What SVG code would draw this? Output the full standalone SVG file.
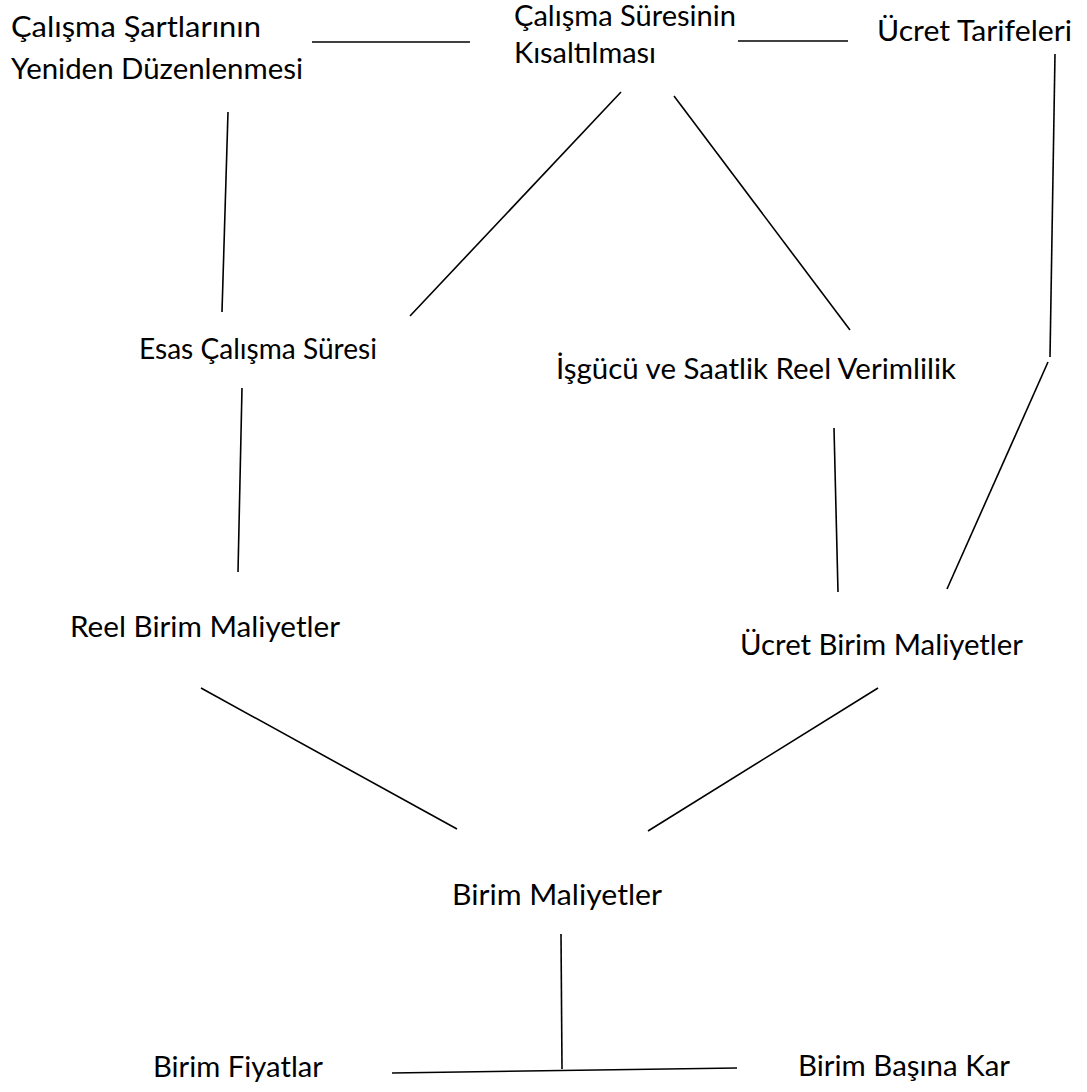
<svg xmlns="http://www.w3.org/2000/svg" width="1087" height="1092" viewBox="0 0 1087 1092">
  <style>
    .lbl { font-family: Lato, "Open Sans", "Liberation Sans", sans-serif; font-size: 28px; fill: #000; }
    .ln { stroke: #000; stroke-width: 1.6; fill: none; stroke-linecap: butt; }
  </style>
  <rect width="1087" height="1092" fill="#fff"/>

  <!-- plain straight connectors, no arrowheads -->
  <g id="connectors">
    <line class="ln" x1="312" y1="42" x2="470" y2="42"/>
    <line class="ln" x1="738" y1="41" x2="848" y2="41"/>
    <line class="ln" x1="228" y1="112" x2="222" y2="312"/>
    <line class="ln" x1="621" y1="92" x2="410" y2="316"/>
    <line class="ln" x1="674" y1="96" x2="850" y2="330"/>
    <line class="ln" x1="1055" y1="54" x2="1050" y2="357"/>
    <line class="ln" x1="242" y1="388" x2="238" y2="572"/>
    <line class="ln" x1="834" y1="428" x2="838" y2="592"/>
    <line class="ln" x1="1048" y1="362" x2="947" y2="589"/>
    <line class="ln" x1="201" y1="688" x2="457" y2="829"/>
    <line class="ln" x1="878" y1="688" x2="648" y2="831"/>
    <line class="ln" x1="561" y1="934" x2="562" y2="1069"/>
    <line class="ln" x1="392" y1="1073" x2="737" y2="1068"/>
  </g>

  <g id="calisma-sartlari">
    <text class="lbl" x="11" y="37" textLength="250" lengthAdjust="spacingAndGlyphs">Çalışma Şartlarının</text>
    <text class="lbl" x="11" y="79" textLength="292" lengthAdjust="spacingAndGlyphs">Yeniden Düzenlenmesi</text>
  </g>
  <g id="calisma-suresi-kisaltma">
    <text class="lbl" x="514" y="26" textLength="222" lengthAdjust="spacingAndGlyphs">Çalışma Süresinin</text>
    <text class="lbl" x="514" y="63" textLength="142" lengthAdjust="spacingAndGlyphs">Kısaltılması</text>
  </g>
  <g id="ucret-tarifeleri">
    <text class="lbl" x="877" y="41" textLength="195" lengthAdjust="spacingAndGlyphs">Ücret Tarifeleri</text>
  </g>
  <g id="esas-calisma-suresi">
    <text class="lbl" x="139" y="359" textLength="238" lengthAdjust="spacingAndGlyphs">Esas Çalışma Süresi</text>
  </g>
  <g id="isgucu-verimlilik">
    <text class="lbl" x="556" y="379" textLength="400" lengthAdjust="spacingAndGlyphs">İşgücü ve Saatlik Reel Verimlilik</text>
  </g>
  <g id="reel-birim-maliyetler">
    <text class="lbl" x="70" y="637" textLength="270" lengthAdjust="spacingAndGlyphs">Reel Birim Maliyetler</text>
  </g>
  <g id="ucret-birim-maliyetler">
    <text class="lbl" x="740" y="655" textLength="283" lengthAdjust="spacingAndGlyphs">Ücret Birim Maliyetler</text>
  </g>
  <g id="birim-maliyetler">
    <text class="lbl" x="452" y="905" textLength="210" lengthAdjust="spacingAndGlyphs">Birim Maliyetler</text>
  </g>
  <g id="birim-fiyatlar">
    <text class="lbl" x="153" y="1077" textLength="170" lengthAdjust="spacingAndGlyphs">Birim Fiyatlar</text>
  </g>
  <g id="birim-basina-kar">
    <text class="lbl" x="798" y="1076" textLength="212" lengthAdjust="spacingAndGlyphs">Birim Başına Kar</text>
  </g>
</svg>
